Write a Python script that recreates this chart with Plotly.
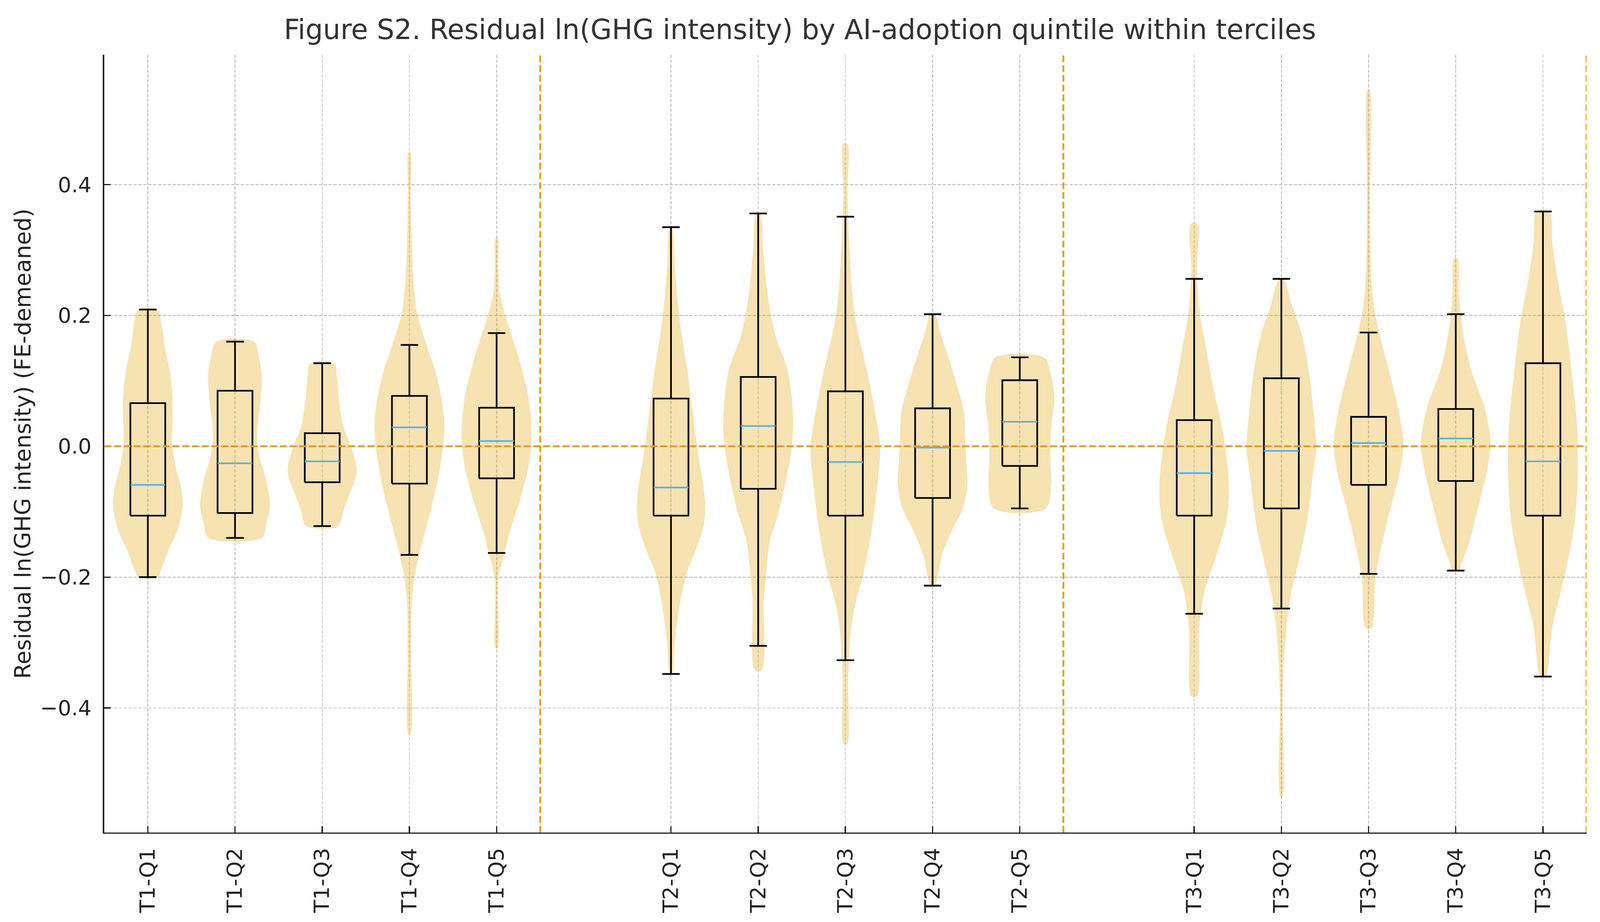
import plotly.graph_objects as go

# ---------------- data ----------------
categories = ["T1-Q1", "T1-Q2", "T1-Q3", "T1-Q4", "T1-Q5",
              "T2-Q1", "T2-Q2", "T2-Q3", "T2-Q4", "T2-Q5",
              "T3-Q1", "T3-Q2", "T3-Q3", "T3-Q4", "T3-Q5"]

# box statistics
q1 = [-0.106, -0.102, -0.055, -0.057, -0.049,
      -0.106, -0.065, -0.106, -0.079, -0.030,
      -0.106, -0.095, -0.059, -0.053, -0.106]
median = [-0.059, -0.026, -0.023, 0.029, 0.008,
          -0.063, 0.031, -0.024, -0.002, 0.0375,
          -0.041, -0.007, 0.005, 0.012, -0.023]
q3 = [0.066, 0.085, 0.020, 0.077, 0.059,
      0.073, 0.106, 0.084, 0.058, 0.101,
      0.040, 0.104, 0.045, 0.057, 0.127]
whisker_low = [-0.200, -0.140, -0.122, -0.166, -0.163,
               -0.348, -0.305, -0.327, -0.213, -0.095,
               -0.256, -0.248, -0.195, -0.190, -0.352]
whisker_high = [0.209, 0.160, 0.127, 0.155, 0.173,
                0.335, 0.356, 0.351, 0.202, 0.136,
                0.256, 0.256, 0.174, 0.202, 0.359]

# violin density profiles: y levels and relative width (1 = widest)
vy_T1Q1 = [-0.200, -0.190, -0.159, -0.127, -0.090, -0.057, -0.041, -0.015, 0.005, 0.030, 0.055, 0.076, 0.115, 0.154, 0.185, 0.209]
vw_T1Q1 = [0.28, 0.37, 0.59, 0.86, 1.00, 0.93, 0.84, 0.74, 0.69, 0.70, 0.71, 0.71, 0.63, 0.48, 0.40, 0.27]
vy_T1Q2 = [-0.140, -0.120, -0.092, -0.065, -0.041, -0.015, 0.015, 0.037, 0.055, 0.076, 0.107, 0.138, 0.160]
vw_T1Q2 = [0.77, 0.89, 1.00, 0.95, 0.84, 0.70, 0.63, 0.65, 0.70, 0.74, 0.77, 0.68, 0.54]
vy_T1Q3 = [-0.122, -0.100, -0.080, -0.049, -0.034, -0.002, 0.029, 0.076, 0.107, 0.127]
vw_T1Q3 = [0.46, 0.60, 0.73, 0.95, 0.99, 0.84, 0.61, 0.47, 0.42, 0.34]
vy_T1Q4 = [-0.440, -0.315, -0.237, -0.205, -0.159, -0.104, -0.049, -0.002, 0.037, 0.076, 0.115, 0.154, 0.201, 0.248, 0.310, 0.388, 0.449]
vw_T1Q4 = [0.03, 0.05, 0.07, 0.13, 0.31, 0.58, 0.82, 0.96, 1.00, 0.91, 0.74, 0.50, 0.23, 0.12, 0.07, 0.04, 0.03]
vy_T1Q5 = [-0.309, -0.205, -0.166, -0.127, -0.080, -0.026, 0.021, 0.076, 0.138, 0.193, 0.232, 0.271, 0.318]
vw_T1Q5 = [0.03, 0.05, 0.21, 0.40, 0.68, 0.93, 1.00, 0.91, 0.62, 0.29, 0.10, 0.05, 0.03]
vy_T2Q1 = [-0.348, -0.299, -0.237, -0.190, -0.159, -0.120, -0.096, -0.065, -0.002, 0.037, 0.115, 0.193, 0.271, 0.335]
vw_T2Q1 = [0.03, 0.11, 0.27, 0.47, 0.71, 0.94, 0.98, 0.94, 0.75, 0.66, 0.47, 0.25, 0.11, 0.03]
vy_T2Q2 = [-0.342, -0.237, -0.198, -0.143, -0.104, -0.041, -0.002, 0.045, 0.115, 0.170, 0.232, 0.295, 0.357]
vw_T2Q2 = [0.10, 0.16, 0.22, 0.34, 0.57, 0.84, 0.96, 1.00, 0.85, 0.49, 0.27, 0.15, 0.05]
vy_T2Q3 = [-0.455, -0.354, -0.276, -0.237, -0.198, -0.127, -0.041, -0.002, 0.076, 0.115, 0.185, 0.232, 0.310, 0.388, 0.462]
vw_T2Q3 = [0.05, 0.08, 0.17, 0.30, 0.50, 0.76, 0.95, 1.00, 0.77, 0.62, 0.32, 0.20, 0.11, 0.06, 0.06]
vy_T2Q4 = [-0.212, -0.166, -0.127, -0.096, -0.057, -0.026, 0.013, 0.052, 0.091, 0.138, 0.177, 0.202]
vw_T2Q4 = [0.06, 0.27, 0.57, 0.86, 1.00, 0.97, 0.93, 0.90, 0.71, 0.44, 0.20, 0.07]
vy_T2Q5 = [-0.095, -0.057, -0.018, 0.029, 0.076, 0.115, 0.136]
vw_T2Q5 = [0.74, 0.90, 0.87, 0.90, 0.99, 0.87, 0.70]
vy_T3Q1 = [-0.382, -0.276, -0.221, -0.174, -0.112, -0.073, -0.026, 0.037, 0.091, 0.154, 0.201, 0.271, 0.340]
vw_T3Q1 = [0.08, 0.15, 0.30, 0.59, 0.93, 1.00, 0.95, 0.77, 0.54, 0.33, 0.17, 0.08, 0.10]
vy_T3Q2 = [-0.536, -0.393, -0.315, -0.237, -0.182, -0.120, -0.041, -0.002, 0.052, 0.115, 0.170, 0.216, 0.256]
vw_T3Q2 = [0.03, 0.04, 0.09, 0.24, 0.47, 0.72, 0.91, 1.00, 0.92, 0.79, 0.59, 0.30, 0.06]
vy_T3Q3 = [-0.278, -0.198, -0.143, -0.096, -0.041, 0.005, 0.060, 0.115, 0.170, 0.216, 0.271, 0.388, 0.545]
vw_T3Q3 = [0.08, 0.20, 0.41, 0.62, 0.89, 1.00, 0.84, 0.59, 0.32, 0.15, 0.07, 0.04, 0.03]
vy_T3Q4 = [-0.190, -0.174, -0.143, -0.096, -0.041, 0.005, 0.060, 0.115, 0.170, 0.232, 0.287]
vw_T3Q4 = [0.08, 0.20, 0.41, 0.63, 0.88, 1.00, 0.82, 0.45, 0.22, 0.09, 0.05]
vy_T3Q5 = [-0.352, -0.276, -0.198, -0.120, -0.041, 0.037, 0.115, 0.193, 0.255, 0.310, 0.359]
vw_T3Q5 = [0.07, 0.27, 0.62, 0.90, 1.00, 0.97, 0.82, 0.64, 0.42, 0.27, 0.18]

y_ticks = [-0.4, -0.2, 0.0, 0.2, 0.4]
y_tick_labels = ["\u22120.4", "\u22120.2", "0.0", "0.2", "0.4"]

title_text = "Figure S2. Residual ln(GHG intensity) by AI-adoption quintile within terciles"
y_title = "Residual ln(GHG intensity) (FE-demeaned)"

# ---------------- layout helpers ----------------
violin_y = [vy_T1Q1, vy_T1Q2, vy_T1Q3, vy_T1Q4, vy_T1Q5,
            vy_T2Q1, vy_T2Q2, vy_T2Q3, vy_T2Q4, vy_T2Q5,
            vy_T3Q1, vy_T3Q2, vy_T3Q3, vy_T3Q4, vy_T3Q5]
violin_w = [vw_T1Q1, vw_T1Q2, vw_T1Q3, vw_T1Q4, vw_T1Q5,
            vw_T2Q1, vw_T2Q2, vw_T2Q3, vw_T2Q4, vw_T2Q5,
            vw_T3Q1, vw_T3Q2, vw_T3Q3, vw_T3Q4, vw_T3Q5]

positions = [t * 6 + q + 1 for t in range(3) for q in range(5)]
tercile_bounds = [t * 6 + 5.5 for t in range(3)]

W, H = 4759, 2360
M_T, M_B = 140, 229
VIOLIN_HALF = 0.4
BOX_HALF = 0.2
CAP_HALF = 0.1
ORANGE = "#E69F00"
BLUE = "#56B4E9"
FONT = "DejaVu Sans"
AX = "#222222"

fig = go.Figure()

# violins
for p, ys, ws in zip(positions, violin_y, violin_w):
    xs = [p + VIOLIN_HALF * w for w in ws] + [p - VIOLIN_HALF * w for w in reversed(ws)]
    yy = list(ys) + list(reversed(ys))
    xs.append(xs[0]); yy.append(yy[0])
    fig.add_trace(go.Scatter(x=xs, y=yy, mode="lines", fill="toself",
                             fillcolor="rgba(230,159,0,0.30)",
                             line=dict(width=0, color="rgba(0,0,0,0)", shape="spline", smoothing=0.9),
                             hoverinfo="skip", showlegend=False))

# boxes + whiskers
for p, a, b, lo, hi in zip(positions, q1, q3, whisker_low, whisker_high):
    bx = [p - BOX_HALF, p + BOX_HALF, p + BOX_HALF, p - BOX_HALF, p - BOX_HALF, None,
          p, p, None, p - CAP_HALF, p + CAP_HALF, None,
          p, p, None, p - CAP_HALF, p + CAP_HALF]
    by = [a, a, b, b, a, None,
          b, hi, None, hi, hi, None,
          a, lo, None, lo, lo]
    fig.add_trace(go.Scatter(x=bx, y=by, mode="lines",
                             line=dict(color="black", width=5),
                             hoverinfo="skip", showlegend=False))

# medians
for p, m in zip(positions, median):
    fig.add_trace(go.Scatter(x=[p - BOX_HALF, p + BOX_HALF], y=[m, m], mode="lines",
                             line=dict(color=BLUE, width=5),
                             hoverinfo="skip", showlegend=False))

# reference lines
fig.add_hline(y=0, line=dict(color=ORANGE, width=5.6, dash="20px,9px"), layer="above")
for xb in tercile_bounds:
    fig.add_vline(x=xb, line=dict(color=ORANGE, width=5.6, dash="20px,9px"), layer="above")

axis_common = dict(
    showline=True, linecolor=AX, linewidth=4.4, mirror=False,
    ticks="inside", ticklen=19, tickwidth=4.4, tickcolor=AX,
    showgrid=True, gridcolor="#c8c8c8", gridwidth=2.8, griddash="10px,4.5px",
    zeroline=False,
    tickfont=dict(family=FONT, size=63, color=AX),
)

fig.update_layout(
    width=W, height=H, autosize=False,
    margin=dict(l=310, r=40, t=M_T, b=M_B, pad=0),
    paper_bgcolor="white", plot_bgcolor="white",
    showlegend=False,
    title=dict(text=title_text, x=0.5, xref="container", xanchor="center",
               y=1 - 75 / H, yref="container", yanchor="middle",
               font=dict(family=FONT, size=82, color="#333333")),
    xaxis=dict(range=[0.5, 17.5], tickmode="array", tickvals=positions, ticktext=categories,
               tickangle=-90, ticklabelstandoff=16, **axis_common),
    yaxis=dict(range=[-0.5905, 0.5985], tickmode="array", tickvals=y_ticks, ticktext=y_tick_labels,
               ticklabelstandoff=21,
               title=dict(text=y_title, standoff=8, font=dict(family=FONT, size=66, color=AX)),
               **axis_common),
)

# fit the figure to the browser viewport: scale to the window width and
# stretch the figure height (and vertical margins) to fill the window height
fit_script = """
(function(){
  var gd = document.getElementById('{plot_id}');
  document.documentElement.style.margin = '0';
  document.documentElement.style.overflow = 'hidden';
  document.body.style.margin = '0';
  document.body.style.overflow = 'hidden';
  var W = %d, H = %d, MT = %d, MB = %d;
  var s = window.innerWidth / W;
  var newH = window.innerHeight / s;
  var k = newH / H;
  gd.style.transformOrigin = '0 0';
  gd.style.transform = 'scale(' + s + ')';
  gd.style.height = newH + 'px';
  Plotly.relayout(gd, {'height': newH, 'margin.t': MT * k, 'margin.b': MB * k});
})();
""" % (W, H, M_T, M_B)

fig.write_html("out.html", post_script=fit_script, config={"displayModeBar": False})
